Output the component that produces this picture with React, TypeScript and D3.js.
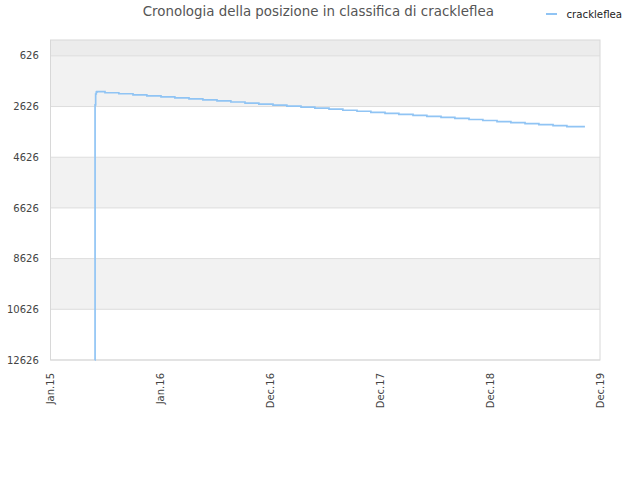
import React from "react";
import * as d3 from "d3";

const TITLE = "Cronologia della posizione in classifica di crackleflea";
const SERIES_NAME = "crackleflea";

const dates = [
  "2015-05-28", "2015-05-29", "2015-05-31", "2015-06-02", "2015-06-04",
  "2015-07-01", "2015-08-16", "2015-10-02", "2015-11-17", "2016-01-03",
  "2016-02-18", "2016-04-05", "2016-05-21", "2016-07-07", "2016-08-22",
  "2016-10-08", "2016-11-23", "2017-01-09", "2017-02-24", "2017-04-12",
  "2017-05-28", "2017-07-14", "2017-08-29", "2017-10-15", "2017-11-30",
  "2018-01-16", "2018-03-03", "2018-04-19", "2018-06-04", "2018-07-21",
  "2018-09-05", "2018-10-22", "2018-12-07", "2019-01-23", "2019-03-10",
  "2019-04-26", "2019-06-11", "2019-07-28", "2019-09-12", "2019-11-11",
];
const ranks = [
  12626, 2560, 2130, 2060, 2040,
  2081, 2121, 2162, 2202, 2243,
  2284, 2324, 2365, 2405, 2446,
  2487, 2527, 2568, 2608, 2649,
  2690, 2730, 2771, 2811, 2852,
  2893, 2933, 2974, 3014, 3055,
  3096, 3136, 3177, 3217, 3258,
  3299, 3339, 3380, 3420, 3420,
];

const yTicks = [626, 2626, 4626, 6626, 8626, 10626, 12626];
const xTickDates = ["2015-01-01", "2016-01-01", "2016-12-31", "2017-12-31", "2018-12-31", "2019-12-31"];
const xTickLabels = ["Jan.15", "Jan.16", "Dec.16", "Dec.17", "Dec.18", "Dec.19"];
const xDomain = ["2015-01-01", "2019-12-31"];
const yDomain = [0, 12626];

const W = 640;
const H = 480;
const M = { left: 50.5, right: 600, top: 40, bottom: 360 };
const FONT = "'DejaVu Sans', sans-serif";
const LINE_COLOR = "#90c4f4";

export default function App() {
  const parse = d3.utcParse("%Y-%m-%d");
  const x = d3
    .scaleUtc()
    .domain(xDomain.map((d) => parse(d) as Date))
    .range([M.left, M.right]);
  const y = d3.scaleLinear().domain(yDomain).range([M.top, M.bottom]);

  const pts = dates.map((d, i) => ({ date: parse(d) as Date, v: ranks[i] }));
  const line = d3
    .line<{ date: Date; v: number }>()
    .x((d) => x(d.date))
    .y((d) => y(d.v))
    .curve(d3.curveStepAfter);

  const bandEdges = [yDomain[0], ...yTicks];
  const bands = [] as { y0: number; y1: number; fill: string }[];
  for (let i = 0; i < bandEdges.length - 1; i++) {
    const fill = i === 0 ? "#ececec" : i % 2 === 1 ? "#f2f2f2" : "#ffffff";
    bands.push({ y0: y(bandEdges[i]), y1: y(bandEdges[i + 1]), fill });
  }

  return (
    <svg
      width={W}
      height={H}
      style={{ position: "absolute", left: 0, top: 0, background: "#fff" }}
      fontFamily={FONT}
    >
      <rect x={0} y={0} width={W} height={H} fill="#fff" />
      {bands.map((b, i) => (
        <rect key={i} x={M.left} y={b.y0} width={M.right - M.left} height={b.y1 - b.y0} fill={b.fill} />
      ))}
      {yTicks.map((t) => (
        <line key={t} x1={M.left} x2={M.right} y1={y(t)} y2={y(t)} stroke="#dddddd" strokeWidth={1} />
      ))}
      <rect
        x={M.left}
        y={M.top}
        width={M.right - M.left}
        height={M.bottom - M.top}
        fill="none"
        stroke="#d8d8d8"
        strokeWidth={1}
      />
      <path d={line(pts) || ""} fill="none" stroke={LINE_COLOR} strokeWidth={1.7} />
      {yTicks.map((t) => (
        <text key={t} x={38.8} y={y(t) + 3.6} textAnchor="end" fontSize={10} fill="#444">
          {t}
        </text>
      ))}
      {xTickDates.map((d, i) => {
        const xx = x(parse(d) as Date);
        return (
          <text
            key={d}
            transform={`translate(${xx + 3.6},373) rotate(-90)`}
            textAnchor="end"
            fontSize={10}
            fill="#444"
          >
            {xTickLabels[i]}
          </text>
        );
      })}
      <text x={318.3} y={16} textAnchor="middle" fontSize={13.4} fill="#555">
        {TITLE}
      </text>
      <line x1={546} x2={557} y1={14} y2={14} stroke={LINE_COLOR} strokeWidth={2} />
      <text x={566.5} y={17.5} fontSize={10.2} fill="#222">
        {SERIES_NAME}
      </text>
    </svg>
  );
}
